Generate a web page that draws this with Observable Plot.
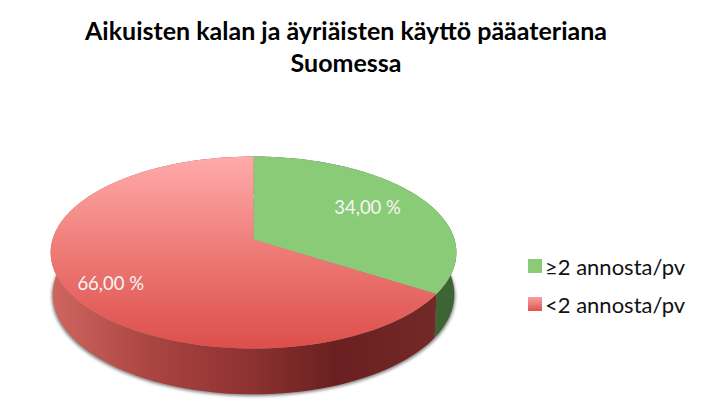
<!DOCTYPE html>
<html lang="fi">
<head>
<meta charset="utf-8">
<script src="https://cdn.jsdelivr.net/npm/d3@7"></script>
<script src="https://cdn.jsdelivr.net/npm/@observablehq/plot@0.6"></script>
<style>
html,body{margin:0;padding:0;background:#fff;}
#wrap{position:relative;width:707px;height:417px;overflow:hidden;font-family:Lato,sans-serif;}
#title{height:85px;box-sizing:border-box;padding-top:14px;text-align:center;font-weight:700;font-size:25px;line-height:32px;color:#000;width:692px;}
#chart svg{display:block;}
.lg{position:absolute;left:528px;display:flex;align-items:center;font-size:22px;color:#111;height:20px;white-space:nowrap;}
.lg i{display:inline-block;width:14px;height:14px;margin-right:3px;}
</style>
</head>
<body>
<div id="wrap">
  <div id="title">Aikuisten kalan ja äyriäisten käyttö pääateriana<br>Suomessa</div>
  <div id="chart"></div>
</div>
<script>
const categories = ["≥2 annosta/pv", "<2 annosta/pv"];
const shares = [34, 66];
const valueLabels = ["34,00 %", "66,00 %"];
const topFills = ["#8acb78", "url(#redTop)"];
const wallFills = ["#3e6433", "url(#redWall)"];

// projection of the tilted disc (perspective)
const k = 0.1354, sx = 201, sy = 94.24, cx = 253, cy = 154, W = 707, H = 332;
const depth = 0.44, lowX = 0.99, lowY = 1.04;
const project = (theta, r) => {
  const u = r * Math.sin(theta), v = r * Math.cos(theta), w = 1 + k * v;
  return {x: u / w, y: v / w};
};
const lower = (p) => ({x: p.x * lowX, y: p.y * lowY - depth});
const total = d3.sum(shares);
let acc = 0;
const slices = shares.map((s, i) => {
  const a0 = acc / total * 2 * Math.PI; acc += s;
  const a1 = acc / total * 2 * Math.PI;
  return {i, a0, a1, mid: (a0 + a1) / 2};
});
const arc = (a0, a1) => d3.range(0, 121).map(j => project(a0 + (a1 - a0) * j / 120, 1));
const faces = slices.map(s => [project(0, 0), ...arc(s.a0, s.a1)]);
const walls = slices.map(s => { const t = arc(s.a0, s.a1); return [...t, ...t.map(lower).reverse()]; });
const shadow = arc(0, 2 * Math.PI).map(lower).map(p => ({x: p.x * 1.005, y: p.y - 0.02}));
const labelRadii = [0.69, 0.8], labelTurn = [-0.03, -0.08];
const labels = slices.map(s => ({...project(s.mid + labelTurn[s.i], labelRadii[s.i]), text: valueLabels[s.i]}));

const defs = () => d3.create("svg:defs").html(`
  <linearGradient id="redTop" gradientUnits="userSpaceOnUse" x1="0" x2="0" y1="71" y2="263">
    <stop offset="0" stop-color="#ffabab"/><stop offset="0.5" stop-color="#ee7a76"/><stop offset="1" stop-color="#dd4f4b"/>
  </linearGradient>
  <linearGradient id="redWall" gradientUnits="userSpaceOnUse" x1="51" x2="457" y1="0" y2="0">
    <stop offset="0" stop-color="#cf6660"/><stop offset="0.25" stop-color="#aa4440"/><stop offset="0.5" stop-color="#8c3030"/>
    <stop offset="0.7" stop-color="#6a2020"/><stop offset="1" stop-color="#742b29"/>
  </linearGradient>`).node();

const marks = [
  defs,
  Plot.line(shadow, {x: "x", y: "y", fill: "#8a8a8a", stroke: "none", imageFilter: "blur(1.6px)"}),
  ...walls.map((w, i) => Plot.line(w, {x: "x", y: "y", fill: wallFills[i], stroke: "none", curve: "linear"})),
  ...faces.map((f, i) => Plot.line(f, {x: "x", y: "y", fill: topFills[i], stroke: "none", curve: "linear"})),
  Plot.text(labels, {x: "x", y: "y", text: "text", fill: "#f6f6f6", fontSize: 18.5, fontFamily: "Lato, sans-serif"})
];
const plot = Plot.plot({
  width: W, height: H, margin: 0,
  x: {domain: [-cx / sx, (W - cx) / sx], range: [0, W], axis: null},
  y: {domain: [cy / sy, -(H - cy) / sy], range: [0, H], axis: null},
  marks
});
document.getElementById("chart").appendChild(plot);

const swatches = ["#8acb78", "linear-gradient(#f8a09e,#dd5450)"];
const legendTops = [256, 294];
categories.forEach((c, i) => {
  const row = document.createElement("div");
  row.className = "lg";
  row.style.top = legendTops[i] + "px";
  const sw = document.createElement("i");
  sw.style.background = swatches[i];
  row.appendChild(sw);
  row.appendChild(document.createTextNode(c));
  document.getElementById("wrap").appendChild(row);
});
</script>
</body>
</html>
